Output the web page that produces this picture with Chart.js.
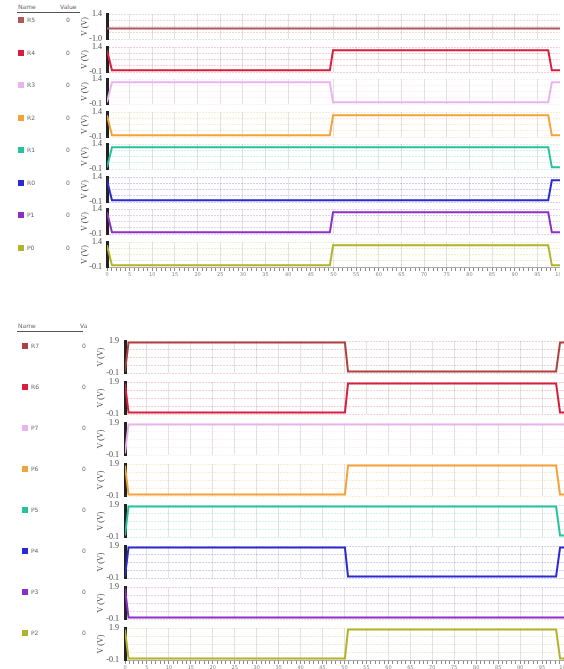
<!DOCTYPE html>
<html><head><meta charset="utf-8">
<script src="https://cdn.jsdelivr.net/npm/chart.js@4.4.1/dist/chart.umd.min.js"></script>
<style>
html,body{margin:0;padding:0;background:#fff;width:564px;height:669px;overflow:hidden;position:relative;font-family:"DejaVu Sans",sans-serif;}
.cw{position:absolute;}
.lg{position:absolute;font-size:6px;line-height:6px;color:#666;white-space:nowrap;}
.sq{position:absolute;width:6px;height:6px;}
.hl{position:absolute;height:1px;background:#555;}
</style></head><body>
<script>
// ---------- DATA ----------
// time axis (ns) of each panel, 0..100
const timeTop    = [0, 1.1, 49.2, 49.9, 97.4, 98.2, 100];
const timeBottom = [0, 0.8, 50.1, 50.8, 98.2, 99.1, 100];

const namesTop    = ['R5', 'R4', 'R3', 'R2', 'R1', 'R0', 'P1', 'P0'];
const namesBottom = ['R7', 'R6', 'P7', 'P6', 'P5', 'P4', 'P3', 'P2'];
const valueCol    = ['0', '0', '0', '0', '0', '0', '0', '0'];

// top panel series (V)
const topR5 = [0, 0, 0, 0, 0, 0, 0];
const topR4 = [1.2, 0, 0, 1.2, 1.2, 0, 0];
const topR3 = [0, 1.2, 1.2, 0, 0, 1.2, 1.2];
const topR2 = [1.2, 0, 0, 1.2, 1.2, 0, 0];
const topR1 = [0, 1.2, 1.2, 1.2, 1.2, 0, 0];
const topR0 = [1.2, 0, 0, 0, 0, 1.2, 1.2];
const topP1 = [1.2, 0, 0, 1.2, 1.2, 0, 0];
const topP0 = [1.2, 0, 0, 1.2, 1.2, 0, 0];

// bottom panel series (V)
const botR7 = [0, 1.8, 1.8, 0, 0, 1.8, 1.8];
const botR6 = [1.8, 0, 0, 1.8, 1.8, 0, 0];
const botP7 = [0, 1.8, 1.8, 1.8, 1.8, 1.8, 1.8];
const botP6 = [1.8, 0, 0, 1.8, 1.8, 0, 0];
const botP5 = [0, 1.8, 1.8, 1.8, 1.8, 0, 0];
const botP4 = [0, 1.8, 1.8, 0, 0, 1.8, 1.8];
const botP3 = [1.8, 0, 0, 0, 0, 0, 0];
const botP2 = [1.8, 0, 0, 1.8, 1.8, 0, 0];

// y-axis ranges (tick labels at min / max)
const topMins = [-1.0, -0.1, -0.1, -0.1, -0.1, -0.1, -0.1, -0.1];
const topMaxs = [1.4, 1.4, 1.4, 1.4, 1.4, 1.4, 1.4, 1.4];
const botMins = [-0.1, -0.1, -0.1, -0.1, -0.1, -0.1, -0.1, -0.1];
const botMaxs = [1.9, 1.9, 1.9, 1.9, 1.9, 1.9, 1.9, 1.9];

const seriesTop = [topR5, topR4, topR3, topR2, topR1, topR0, topP1, topP0];
const seriesBottom = [botR7, botR6, botP7, botP6, botP5, botP4, botP3, botP2];

// ---------- STYLE ----------
const colorsTop = ['#b0585c', '#d81e3c', '#e9b4ee', '#f4a23a', '#27c29d', '#2a2ad0', '#8c2fc6', '#b3b32a'];
const colorsBottom = ['#b04040', '#d81e3c', '#e9b4ee', '#f4a23a', '#27c29d', '#2a2ad0', '#8c2fc6', '#b3b32a'];

function alpha(hex, a) {
  const n = parseInt(hex.slice(1), 16);
  return `rgba(${(n >> 16) & 255},${(n >> 8) & 255},${n & 255},${a})`;
}

function makeRow(o) {
  const wrap = document.createElement('div');
  wrap.className = 'cw';
  const H = o.plotH + 6 + (o.showX ? o.xh : 6);
  wrap.style.left = o.left + 'px';
  wrap.style.top = (o.top - 6) + 'px';
  wrap.style.width = o.width + 'px';
  wrap.style.height = H + 'px';
  const cv = document.createElement('canvas');
  cv.width = o.width; cv.height = H;
  wrap.appendChild(cv);
  document.body.appendChild(wrap);
  const min = o.min, max = o.max;
  new Chart(cv, {
    type: 'line',
    data: { datasets: [{
      data: o.times.map((t, i) => ({ x: t, y: o.vals[i] })),
      borderColor: o.color, borderWidth: 2, pointRadius: 0, tension: 0, fill: false
    }]},
    options: {
      responsive: false, animation: false, devicePixelRatio: 1,
      layout: { padding: { top: 6, bottom: o.showX ? 0 : 6, left: 0, right: 0 } },
      plugins: { legend: { display: false }, tooltip: { enabled: false } },
      scales: {
        x: {
          type: 'linear', min: 0, max: 100,
          grid: {
            color: c => (c.tick && c.tick.value % 5 === 0) ? '#e2e2e2' : 'rgba(0,0,0,0)',
            tickColor: '#8a8a8a', drawTicks: o.showX, tickLength: 4
          },
          border: { display: o.showX, color: '#aaa' },
          ticks: {
            display: o.showX, stepSize: 1, autoSkip: false, maxRotation: 0, minRotation: 0,
            font: { size: 5, family: 'DejaVu Sans' }, color: '#888', padding: 1,
            callback: v => (v % 5 === 0 ? String(v) : '')
          },
          afterFit: s => { s.height = o.showX ? o.xh : 0; s.paddingLeft = 0; s.paddingRight = 0; }
        },
        y: {
          min: min, max: max, position: 'left',
          afterBuildTicks: s => { s.ticks = [0, 1, 2, 3, 4].map(i => ({ value: min + (max - min) * i / 4 })); },
          ticks: {
            autoSkip: false,
            callback: v => (Math.abs(v - min) < 1e-9 || Math.abs(v - max) < 1e-9) ? v.toFixed(1) : '',
            font: { family: 'Liberation Serif', size: 8 }, color: '#444', padding: o.tickPad
          },
          grid: { color: alpha(o.color, 0.22), drawTicks: false },
          border: { color: '#222', width: 3, dash: [2, 1] },
          title: { display: true, text: 'V (V)', font: { family: 'Liberation Serif', size: 8 }, color: '#444', padding: 0 },
          afterFit: s => { s.width = o.yw; s.paddingTop = 0; s.paddingBottom = 0; }
        }
      }
    }
  });
}

function addText(txt, x, y, cls) {
  const d = document.createElement('div');
  d.className = cls || 'lg'; d.textContent = txt;
  d.style.left = x + 'px'; d.style.top = y + 'px';
  document.body.appendChild(d);
}
function addBox(x, y, w, h, color, cls) {
  const d = document.createElement('div');
  d.className = cls; d.style.left = x + 'px'; d.style.top = y + 'px';
  d.style.width = w + 'px'; d.style.height = h + 'px'; d.style.background = color;
  document.body.appendChild(d);
}

// ---------- TOP PANEL ----------
addText('Name', 18, 4); addText('Value', 60, 4);
addBox(17, 12, 63, 1, '#555', 'hl');
for (let i = 0; i < 8; i++) {
  const top = 14 + i * 32.5;
  makeRow({ left: 80, top: top, width: 480, plotH: 25, yw: 27, tickPad: 5, times: timeTop, vals: seriesTop[i],
            color: colorsTop[i], min: topMins[i], max: topMaxs[i], showX: i === 7, xh: 18 });
  addBox(18, top + 3, 6, 6, colorsTop[i], 'sq');
  addText(namesTop[i], 27, top + 3);
  addText(valueCol[i], 66, top + 3);
}

// ---------- BOTTOM PANEL ----------
addText('Name', 18, 323); addText('Va', 80, 323);
addBox(17, 331, 66, 1, '#555', 'hl');
for (let i = 0; i < 8; i++) {
  const top = 341 + i * 41;
  makeRow({ left: 96, top: top, width: 468, plotH: 32, yw: 29, tickPad: 6, times: timeBottom, vals: seriesBottom[i],
            color: colorsBottom[i], min: botMins[i], max: botMaxs[i], showX: i === 7, xh: 16 });
  addBox(22, top + 2, 6, 6, colorsBottom[i], 'sq');
  addText(namesBottom[i], 31, top + 2);
  addText(valueCol[i], 82, top + 2);
}
</script>
</body></html>
